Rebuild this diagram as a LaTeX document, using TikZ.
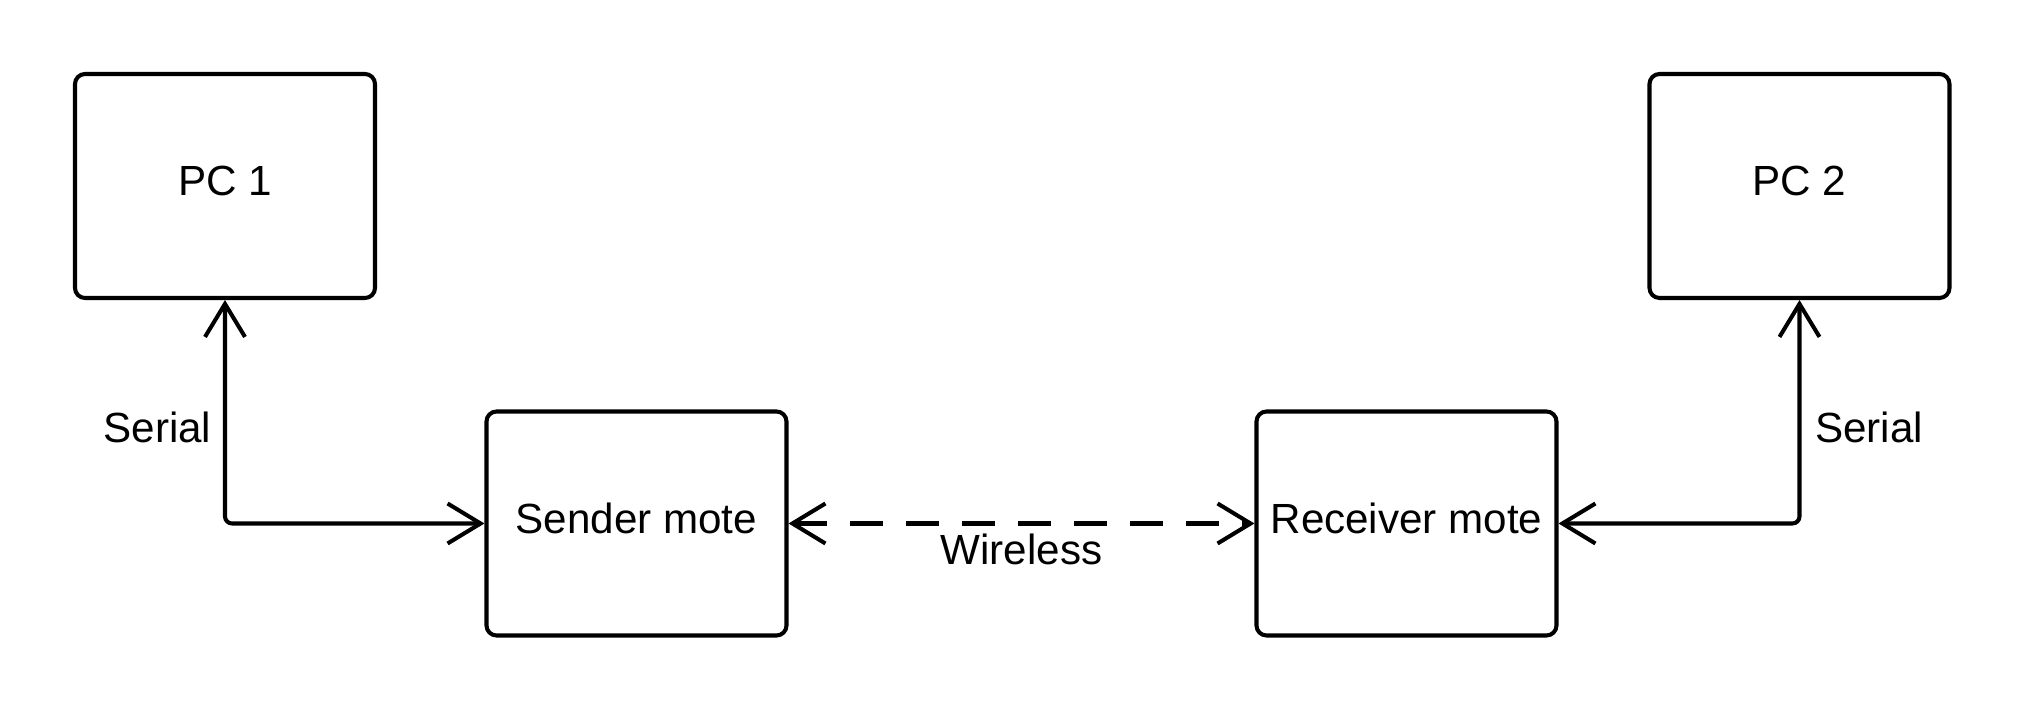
\documentclass[tikz,border=0pt]{standalone}
\usepackage{fontspec}
\setmainfont{Liberation Sans}
\usetikzlibrary{arrows.meta,positioning,calc}
\tikzset{box/.style={draw=black,line width=1.15pt,rounded corners=1mm,align=center,minimum width=30mm,minimum height=22.4mm,inner sep=2pt,text depth=1mm,font=\fontsize{12}{14}\selectfont},arrow/.style={{Straight Barb[length=3.3mm,width=4mm]}-{Straight Barb[length=3.3mm,width=4mm]},line width=1.15pt,rounded corners=2pt},lab/.style={font=\fontsize{12}{14}\selectfont,inner sep=2pt}}

\begin{document}
\begin{tikzpicture}
\useasboundingbox (0,0) rectangle (20.25,7.13);
\node[box] (pc1) at (2.25,5.27) {PC 1};
\node[box] (pc2) at (17.995,5.27) {PC 2};
\node[box] (snd) at (6.365,1.895) {Sender mote};
\node[box] (rcv) at (14.065,1.895) {Receiver mote};
\draw[arrow](pc1.south)|-(snd.west);
\draw[arrow](pc2.south)|-(rcv.east);
\draw[arrow,dash pattern=on 3.3mm off 2.3mm](snd.east)--node[lab,below=0.5pt]{Wireless}(rcv.west);
\node[lab,left=0.6mm] (s1) at ($(pc1.south)!0.57!(pc1.south|-snd.west)$) {Serial};
\node[lab,right=0.8mm] (s2) at ($(pc2.south)!0.57!(pc2.south|-rcv.east)$) {Serial};
\end{tikzpicture}
\end{document}
